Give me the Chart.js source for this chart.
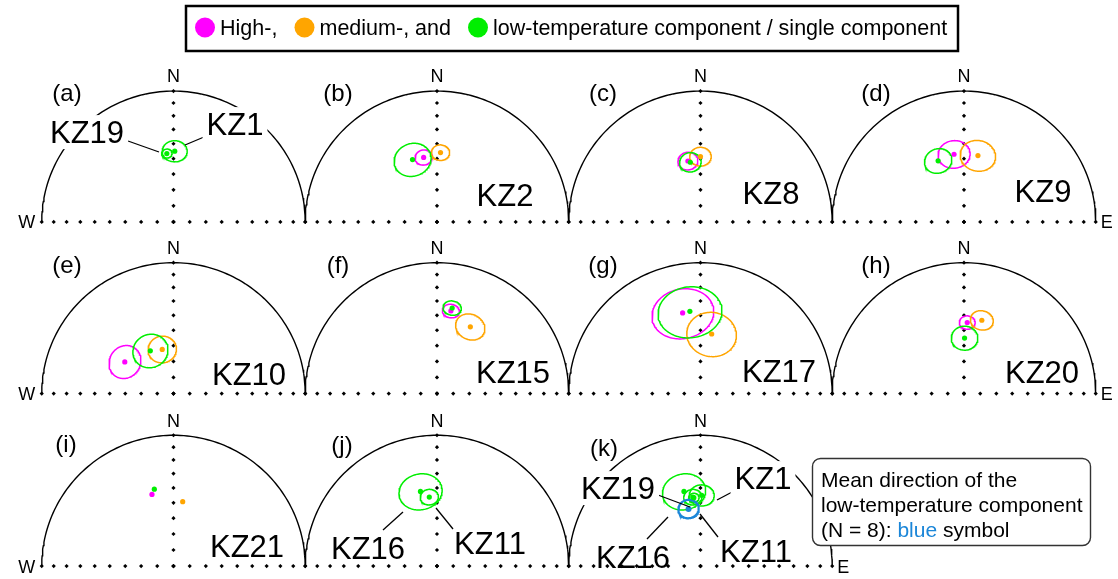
<!DOCTYPE html>
<html>
<head>
<meta charset="utf-8">
<script src="https://cdn.jsdelivr.net/npm/chart.js@4/dist/chart.umd.min.js"></script>
<style>
  html, body { margin: 0; padding: 0; background: #fff; overflow: hidden; }
  #wrap { position: relative; width: 1118px; height: 579px; }
</style>
</head>
<body>
<div id="wrap"><canvas id="c" width="1118" height="579"></canvas></div>
<script>
// ---------------- data ----------------
const panelTags = ['(a)', '(b)', '(c)', '(d)', '(e)', '(f)', '(g)', '(h)', '(i)', '(j)', '(k)'];

// sites with high-, medium- and low-temperature components (one panel each)
const siteNames = ['KZ2', 'KZ8', 'KZ9', 'KZ10', 'KZ15', 'KZ17', 'KZ20', 'KZ21'];
const sitePanel = [1, 2, 3, 4, 5, 6, 7, 8];
const highDec = [348.4, 348.4, 351.7, 303.2,  9.5, 347.6,  2.6, 343.4];
const highInc = [ 48.3,  50.7,  46.6,  53.6, 36.2,  37.0, 44.8,  42.3];
const highA95 = [  5.0,   5.8,   9.2,  10.0,  4.7,  17.2,  4.5,  null];
const medDec  = [  2.9,   0.0,  11.8, 345.8, 26.4,  10.6, 13.6,   8.1];
const medInc  = [ 45.9,  48.6,  47.0,  61.5, 42.5,  51.8, 41.9,  48.8];
const medA95  = [  5.2,   6.2,  10.2,   8.5,  8.5,  14.5,  6.5,  null];
const lowDec  = [338.7, 350.4, 337.2, 331.7, 10.0, 352.7,  0.6, 346.1];
const lowInc  = [ 47.6,  51.8,  48.0,  59.6, 34.0,  36.8, 55.1,  39.3];
const lowA95  = [ 10.8,   6.3,   8.0,  10.6,  5.0,  17.7,  7.8,  null];

// single-component sites
const singleNames = ['KZ1', 'KZ19', 'KZ11', 'KZ16'];
const singlePanel = [0, 0, 9, 9];
const singleDec = [  1.0, 354.5, 353.7, 347.6];
const singleInc = [ 45.0,  46.4,  45.9,  41.2];
const singleA95 = [  7.1,   3.0,   5.2,  12.2];

// mean of the low-temperature component (panel k)
const meanDec = [348.3];
const meanInc = [53.2];
const meanA95 = [6.0];

// inclination ticks along the N and E-W diameters
const tickInc = [0, 10, 20, 30, 40, 50, 60, 70, 80, 90];

// ---------------- layout ----------------
const W = 1118, H = 579;
const R = 132.7;                    // net radius in px
const X0 = 170.7;                   // centre of first column, px
const ROW_BASE = [221, 395, 570];   // E-W diameter of each row, px
const panelCol = [0, 1, 2, 3, 0, 1, 2, 3, 0, 1, 2];
const panelRow = [0, 0, 0, 0, 1, 1, 1, 1, 2, 2, 2];
const xMin = -X0 / R, xMax = (W - X0) / R;
const yMin = -(H - ROW_BASE[0]) / R, yMax = ROW_BASE[0] / R;

const COL = { high: '#ff00ff', med: '#ffa500', low: '#00ee00', mean: '#1b86d8' };
const FONT = '"Liberation Sans", Arial, Helvetica, sans-serif';
const RAD = Math.PI / 180;

function centre(p) {
  return { x: 2 * panelCol[p], y: (ROW_BASE[0] - ROW_BASE[panelRow[p]]) / R };
}
// Lambert equal-area projection of a direction into panel p
function project(p, dec, inc) {
  const c = centre(p);
  const r = Math.SQRT2 * Math.sin((90 - Math.abs(inc)) / 2 * RAD);
  return { x: c.x + r * Math.sin(dec * RAD), y: c.y + r * Math.cos(dec * RAD) };
}
// cone of confidence (small circle of radius a95) around a direction
function smallCircle(p, dec, inc, a95) {
  const d = dec * RAD, i = inc * RAD, a = a95 * RAD;
  const m = [Math.cos(i) * Math.cos(d), Math.cos(i) * Math.sin(d), Math.sin(i)];
  const u = [-Math.sin(i) * Math.cos(d), -Math.sin(i) * Math.sin(d), Math.cos(i)];
  const v = [-Math.sin(d), Math.cos(d), 0];
  const pts = [];
  for (let k = 0; k <= 120; k++) {
    const t = 2 * Math.PI * k / 120;
    const q = [0, 1, 2].map(j => Math.cos(a) * m[j] + Math.sin(a) * (Math.cos(t) * u[j] + Math.sin(t) * v[j]));
    const inc2 = Math.asin(Math.max(-1, Math.min(1, q[2]))) / RAD;
    const dec2 = Math.atan2(q[1], q[0]) / RAD;
    pts.push(project(p, dec2, inc2));
  }
  return pts;
}

// ---------------- datasets ----------------
const datasets = [];
const lineDs = (data, color, width, order) => ({
  type: 'scatter', data, showLine: true, borderColor: color, borderWidth: width,
  pointRadius: 0, fill: false, tension: 0, order
});
const dotDs = (data, color, radius, order, style) => ({
  type: 'scatter', data, pointStyle: style || 'circle', pointRadius: radius,
  backgroundColor: color, borderColor: color, borderWidth: 0, order
});

for (let p = 0; p < panelTags.length; p++) {
  // primitive (horizontal plane), northern half
  const arc = [];
  for (let d = -90; d <= 90; d += 1.5) arc.push(project(p, d, 0));
  datasets.push(lineDs(arc, '#000', 1.4, 4));
  // inclination ticks
  const ticks = [];
  tickInc.forEach(I => {
    ticks.push(project(p, 0, I));
    ticks.push(project(p, 90, I));
    ticks.push(project(p, 270, I));
  });
  datasets.push(dotDs(ticks, '#000', 2.1, 3, 'rectRot'));
}

function addDirection(p, dec, inc, a95, color) {
  if (a95 != null) datasets.push(lineDs(smallCircle(p, dec, inc, a95), color, 1.5, 1));
  datasets.push(dotDs([project(p, dec, inc)], color, 2.6, 0));
}

siteNames.forEach((s, k) => {
  const p = sitePanel[k];
  addDirection(p, lowDec[k], lowInc[k], lowA95[k], COL.low);
  addDirection(p, medDec[k], medInc[k], medA95[k], COL.med);
  addDirection(p, highDec[k], highInc[k], highA95[k], COL.high);
});
singleNames.forEach((s, k) => {
  addDirection(singlePanel[k], singleDec[k], singleInc[k], singleA95[k], COL.low);
  addDirection(10, singleDec[k], singleInc[k], singleA95[k], COL.low);
});
datasets.push(lineDs(smallCircle(10, meanDec[0], meanInc[0], meanA95[0]), COL.mean, 2.2, 0));
datasets.push(dotDs([project(10, meanDec[0], meanInc[0])], COL.mean, 3, 0));

// ---------------- annotation layout (px) ----------------
const tagPos = [[67, 95], [338, 95], [603, 95], [876, 95], [67, 267], [338, 267], [603, 267], [876, 267], [66, 446], [342, 447], [604, 450]];
const siteLabels = [
  { t: 'KZ19', x: 87, y: 132, mask: true }, { t: 'KZ1', x: 235, y: 124, mask: true },
  { t: 'KZ2', x: 505, y: 195 }, { t: 'KZ8', x: 771, y: 193 }, { t: 'KZ9', x: 1043, y: 191 },
  { t: 'KZ10', x: 249, y: 374 }, { t: 'KZ15', x: 513, y: 372 }, { t: 'KZ17', x: 779, y: 371 }, { t: 'KZ20', x: 1042, y: 372 },
  { t: 'KZ21', x: 247, y: 546 }, { t: 'KZ16', x: 368, y: 548 }, { t: 'KZ11', x: 490, y: 543 },
  { t: 'KZ19', x: 618, y: 488, mask: true }, { t: 'KZ1', x: 763, y: 478, mask: true },
  { t: 'KZ16', x: 633, y: 557 }, { t: 'KZ11', x: 756, y: 551 }
];
const leaders = [
  [128, 141, 159, 152], [204, 137, 185, 145],
  [383, 530, 403, 512], [453, 529, 436, 508],
  [658, 495, 690, 507], [734, 491, 717, 500], [647, 539, 668, 517], [718, 537, 700, 514]
];

const textPlugin = {
  id: 'netText',
  afterDatasetsDraw(chart) {
    const ctx = chart.ctx;
    const sx = chart.scales.x, sy = chart.scales.y;
    ctx.save();
    ctx.fillStyle = '#000';
    ctx.textAlign = 'center';
    ctx.textBaseline = 'alphabetic';
    // compass letters
    ctx.font = '18px ' + FONT;
    for (let p = 0; p < panelTags.length; p++) {
      const n = project(p, 0, 0);
      ctx.fillText('N', sx.getPixelForValue(n.x), sy.getPixelForValue(n.y) - 15 + 6.4);
    }
    [0, 1, 2].forEach(row => {
      const first = panelRow.indexOf(row), last = panelRow.lastIndexOf(row);
      const w = project(first, 270, 0), e = project(last, 90, 0);
      ctx.fillText('W', sx.getPixelForValue(w.x) - 15, sy.getPixelForValue(w.y) + 6.4);
      ctx.fillText('E', sx.getPixelForValue(e.x) + 11, sy.getPixelForValue(e.y) + 6.4);
    });
    // panel tags
    ctx.font = '24px ' + FONT;
    panelTags.forEach((t, p) => ctx.fillText(t, tagPos[p][0], tagPos[p][1] + 6.2));
    // leader lines
    ctx.strokeStyle = '#000';
    ctx.lineWidth = 1.3;
    leaders.forEach(l => { ctx.beginPath(); ctx.moveTo(l[0], l[1]); ctx.lineTo(l[2], l[3]); ctx.stroke(); });
    // site names
    ctx.font = '31px ' + FONT;
    siteLabels.forEach(s => {
      const base = s.y + 11.1;
      if (s.mask) {
        const w = ctx.measureText(s.t).width;
        ctx.fillStyle = '#fff';
        ctx.fillRect(s.x - w / 2 - 4, base - 28, w + 8, 34);
        ctx.fillStyle = '#000';
      }
      ctx.fillText(s.t, s.x, base);
    });
    // legend
    ctx.lineWidth = 2.5;
    ctx.strokeStyle = '#000';
    ctx.fillStyle = '#fff';
    ctx.fillRect(186, 6, 772, 45);
    ctx.strokeRect(186, 6, 772, 45);
    ctx.font = '21.5px ' + FONT;
    ctx.textAlign = 'left';
    [[205, COL.high, 'High-,'], [304.5, COL.med, 'medium-, and'], [478, COL.low, 'low-temperature component / single component']]
      .forEach(([x, c, t]) => {
        ctx.fillStyle = c;
        ctx.beginPath(); ctx.arc(x, 27.5, 10, 0, 2 * Math.PI); ctx.fill();
        ctx.fillStyle = '#000';
        ctx.fillText(t, x + 15, 35);
      });
    // note box
    ctx.fillStyle = '#fff';
    ctx.strokeStyle = '#333';
    ctx.lineWidth = 1.4;
    ctx.beginPath();
    ctx.roundRect(812.5, 458.5, 278, 87, 8);
    ctx.fill(); ctx.stroke();
    ctx.fillStyle = '#000';
    ctx.font = '21px ' + FONT;
    ctx.fillText('Mean direction of the', 821, 487);
    ctx.fillText('low-temperature component', 821, 512);
    const pre = '(N = 8): ';
    ctx.fillText(pre, 821, 537);
    let x = 821 + ctx.measureText(pre).width;
    ctx.fillStyle = COL.mean;
    ctx.fillText('blue', x, 537);
    x += ctx.measureText('blue ').width;
    ctx.fillStyle = '#000';
    ctx.fillText('symbol', x, 537);
    ctx.restore();
  }
};

new Chart(document.getElementById('c').getContext('2d'), {
  type: 'scatter',
  data: { datasets },
  options: {
    responsive: false,
    animation: false,
    events: [],
    layout: { padding: 0 },
    plugins: { legend: { display: false }, tooltip: { enabled: false } },
    scales: {
      x: { type: 'linear', min: xMin, max: xMax, display: false },
      y: { type: 'linear', min: yMin, max: yMax, display: false }
    }
  },
  plugins: [textPlugin]
});
</script>
</body>
</html>
